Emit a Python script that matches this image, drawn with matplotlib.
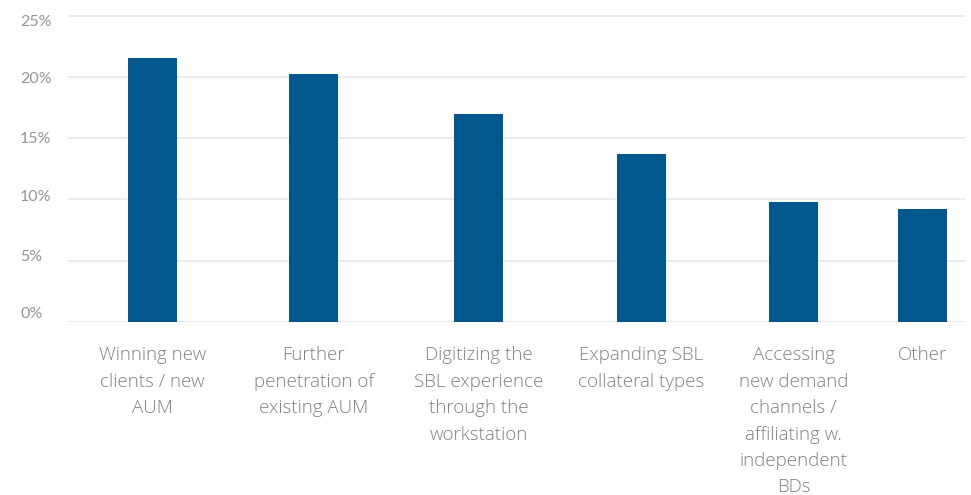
import matplotlib.pyplot as plt
from matplotlib.ticker import FuncFormatter
from matplotlib.transforms import ScaledTranslation

categories = [
    "Winning new\nclients / new\nAUM",
    "Further\npenetration of\nexisting AUM",
    "Digitizing the\nSBL experience\nthrough the\nworkstation",
    "Expanding SBL\ncollateral types",
    "Accessing\nnew demand\nchannels /\naffiliating w.\nindependent\nBDs",
    "Other",
]
shares = [21.5, 20.2, 17.0, 13.7, 9.8, 9.2]
yticks = [0, 5, 10, 15, 20, 25]

# bar centres along the plot width (pixels from the left edge of the plot)
xpos = [84.5, 245.5, 410.5, 573.5, 725.5, 854.5]
# small vertical nudges of the y labels, in pixels (positive = up)
ylab_shift = [9, 5, 4, 1, -1, -4.5]

W, H = 971, 495
fig = plt.figure(figsize=(W / 100, H / 100), dpi=100)
left, right, bottom = 68, 965, 322
top = bottom - 25.3 * (306.5 / 25)
ax = fig.add_axes([left / W, 1 - bottom / H, (right - left) / W, (bottom - top) / H])

ax.bar(xpos, shares, width=49, color="#02578c", zorder=3)

ax.set_xlim(0, right - left)
ax.set_ylim(0, 25.3)
ax.set_yticks(yticks)
ax.yaxis.set_major_formatter(FuncFormatter(lambda v, p: f"{v:.0f}%"))
ax.grid(axis="y", color="#ebebeb", linewidth=1.4, zorder=0)
for s in ax.spines.values():
    s.set_visible(False)
ax.tick_params(axis="y", length=0, pad=34.5, labelsize=11.5, labelcolor="#959595")
for lab, dy in zip(ax.get_yticklabels(), ylab_shift):
    lab.set_horizontalalignment("left")
    lab.set_fontfamily("Lato")
    lab.set_transform(lab.get_transform() + ScaledTranslation(0, dy / 100, fig.dpi_scale_trans))

ax.set_xticks(xpos)
ax.set_xticklabels(categories, fontsize=13.5, color="#808080",
                   fontfamily="Open Sans", fontweight="light", linespacing=1.6)
ax.tick_params(axis="x", length=0, pad=17.5)

fig.savefig("out.png", dpi=100)
